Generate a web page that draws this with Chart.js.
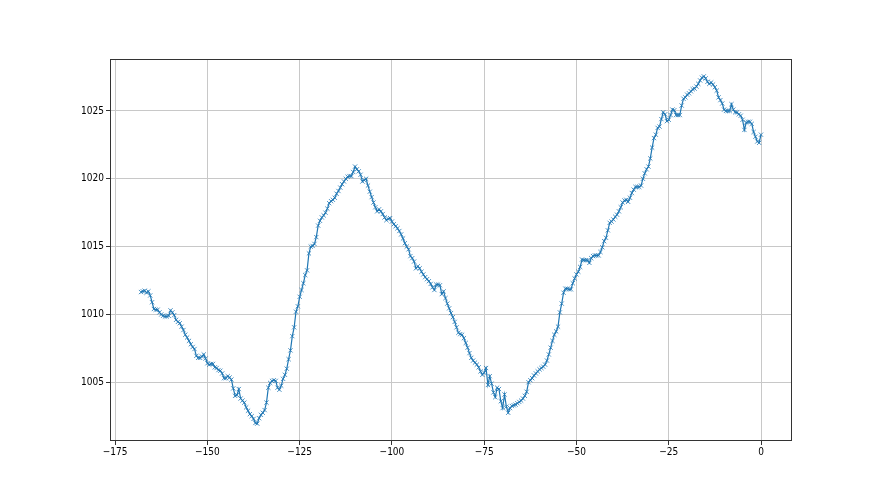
<!DOCTYPE html>
<html>
<head>
<meta charset="utf-8">
<script src="https://cdn.jsdelivr.net/npm/chart.js@4.4.1/dist/chart.umd.min.js"></script>
<style>
    body { margin: 0; background: #ffffff; }
    #wrap { width: 880px; height: 495px; }
</style>
</head>
<body>
<div id="wrap"><canvas id="pressure_chart" width="880" height="495"></canvas></div>
<script>
//Time axis: hours before now, one reading every half hour
const startHour = -168;
const stepHour = 0.5;
const pressure = [
    1011.65, 1011.7, 1011.75, 1011.6, 1011.7, 1011.4, 1010.9, 1010.4, 1010.35, 1010.35,
    1010.15, 1010.0, 1009.9, 1009.85, 1009.85, 1009.9, 1010.3, 1010.15, 1009.95, 1009.6,
    1009.45, 1009.35, 1009.1, 1008.85, 1008.5, 1008.3, 1008.05, 1007.8, 1007.6, 1007.45,
    1006.95, 1006.8, 1006.8, 1006.9, 1007.05, 1006.75, 1006.4, 1006.3, 1006.35, 1006.35,
    1006.1, 1006.05, 1005.9, 1005.85, 1005.65, 1005.3, 1005.3, 1005.45, 1005.35, 1005.2,
    1004.55, 1004.0, 1004.05, 1004.5, 1003.8, 1003.65, 1003.5, 1003.15, 1002.9, 1002.65,
    1002.5, 1002.3, 1002.0, 1001.95, 1002.35, 1002.6, 1002.75, 1002.95, 1003.5, 1004.6,
    1004.95, 1005.1, 1005.15, 1005.1, 1004.6, 1004.45, 1004.75, 1005.25, 1005.55, 1006.0,
    1006.7, 1007.35, 1008.4, 1009.05, 1010.2, 1010.6, 1011.3, 1011.8, 1012.3, 1012.9,
    1013.25, 1014.5, 1015.0, 1015.05, 1015.2, 1015.7, 1016.55, 1016.9, 1017.15, 1017.3,
    1017.5, 1017.8, 1018.2, 1018.35, 1018.45, 1018.6, 1018.9, 1019.1, 1019.35, 1019.6,
    1019.8, 1020.0, 1020.15, 1020.2, 1020.2, 1020.5, 1020.9, 1020.7, 1020.55, 1020.3,
    1019.8, 1019.9, 1020.0, 1019.5, 1019.05, 1018.65, 1018.25, 1017.9, 1017.6, 1017.75,
    1017.6, 1017.4, 1017.15, 1016.95, 1017.05, 1017.1, 1016.85, 1016.65, 1016.5, 1016.35,
    1016.15, 1015.9, 1015.6, 1015.25, 1015.0, 1014.8, 1014.3, 1014.15, 1013.9, 1013.4,
    1013.55, 1013.4, 1013.15, 1012.95, 1012.75, 1012.6, 1012.45, 1012.25, 1012.0, 1011.8,
    1012.2, 1012.2, 1012.15, 1011.5, 1011.7, 1011.2, 1010.8, 1010.45, 1010.1, 1009.8,
    1009.45, 1009.05, 1008.65, 1008.55, 1008.5, 1008.25, 1007.9, 1007.55, 1007.15, 1006.8,
    1006.6, 1006.45, 1006.3, 1006.1, 1005.8, 1005.55, 1005.7, 1006.05, 1004.8, 1005.45,
    1004.9, 1004.25, 1003.9, 1004.6, 1004.5, 1003.6, 1003.1, 1004.1, 1003.2, 1002.75,
    1003.1, 1003.25, 1003.3, 1003.35, 1003.45, 1003.55, 1003.65, 1003.8, 1004.0, 1004.3,
    1005.0, 1005.15, 1005.3, 1005.5, 1005.65, 1005.8, 1005.95, 1006.05, 1006.15, 1006.3,
    1006.6, 1007.05, 1007.55, 1008.05, 1008.5, 1008.75, 1009.1, 1010.15, 1010.8, 1011.6,
    1011.9, 1011.9, 1011.85, 1011.85, 1012.3, 1012.65, 1012.95, 1013.15, 1013.5, 1014.05,
    1014.0, 1014.0, 1014.0, 1013.8, 1014.15, 1014.3, 1014.35, 1014.35, 1014.35, 1014.6,
    1014.95, 1015.4, 1015.65, 1016.2, 1016.75, 1016.85, 1017.0, 1017.2, 1017.35, 1017.6,
    1017.9, 1018.25, 1018.4, 1018.45, 1018.3, 1018.6, 1018.95, 1019.2, 1019.4, 1019.4,
    1019.4, 1019.5, 1020.0, 1020.4, 1020.7, 1020.9, 1021.5, 1022.3, 1023.0, 1023.25,
    1023.75, 1023.85, 1024.4, 1024.9, 1024.75, 1024.25, 1024.35, 1024.7, 1025.1, 1025.05,
    1024.7, 1024.7, 1024.7, 1025.4, 1025.9, 1026.0, 1026.2, 1026.3, 1026.45, 1026.6,
    1026.65, 1026.8, 1027.0, 1027.25, 1027.45, 1027.55, 1027.4, 1027.15, 1027.0, 1027.1,
    1026.95, 1026.75, 1026.5, 1026.0, 1025.8, 1025.55, 1025.1, 1025.0, 1025.0, 1025.0,
    1025.5, 1025.1, 1024.9, 1024.9, 1024.75, 1024.65, 1024.35, 1023.6, 1024.15, 1024.2,
    1024.2, 1024.05, 1023.45, 1023.1, 1022.75, 1022.65, 1023.25
];
//Tick values shown on the axes
const xTicks = [-175, -150, -125, -100, -75, -50, -25, 0];
const yTicks = [1005, 1010, 1015, 1020, 1025];

//Pairs every reading with its hour
const points = pressure.map((p, i) => ({x: startHour + i * stepHour, y: p}));

//Axis limits with a 5% margin like matplotlib
const xMin = Math.min(...points.map(p => p.x));
const xMax = Math.max(...points.map(p => p.x));
const yMin = Math.min(...pressure);
const yMax = Math.max(...pressure);
const xPad = (xMax - xMin) * 0.05;
const yPad = (yMax - yMin) * 0.05;

const lineColor = '#1f77b4';
const markerColor = 'rgba(31,119,180,0.8)';
const gridColor = '#c8c8c8';
const spineColor = '#333333';
//The tick text in the picture is narrow, so a condensed face fits it best
const tickFont = {family: "'Liberation Sans Narrow', 'DejaVu Sans Condensed', 'DejaVu Sans', sans-serif", size: 10};

//Draws the full box round the plot area
const framePlugin = {
    id: 'frame',
    afterDraw: (chart) => {
        const a = chart.chartArea;
        const ctx = chart.ctx;
        ctx.save();
        ctx.strokeStyle = spineColor;
        ctx.lineWidth = 1;
        ctx.strokeRect(Math.round(a.left) + 0.5, Math.round(a.top) + 0.5,
            Math.round(a.right - a.left) - 1, Math.round(a.bottom - a.top) - 1);
        ctx.restore();
    }
};

new Chart("pressure_chart", {
    type: 'line',
    data: {
        datasets: [{
            data: points,
            borderColor: lineColor,
            borderWidth: 1.2,
            backgroundColor: 'rgba(0,0,0,0)',
            fill: false,
            tension: 0,
            pointStyle: 'crossRot',
            pointRadius: 3,
            pointBorderWidth: 1,
            pointBorderColor: markerColor
        }]
    },
    options: {
        responsive: false,
        animation: false,
        layout: {padding: {left: 0, right: 88, top: 59, bottom: 0}},
        plugins: {
            legend: {display: false},
            tooltip: {enabled: false}
        },
        scales: {
            x: {
                type: 'linear',
                min: xMin - xPad,
                max: xMax + xPad,
                afterFit: (scale) => { scale.height = 54; },
                afterBuildTicks: (scale) => { scale.ticks = xTicks.map(v => ({value: v})); },
                grid: {color: gridColor, lineWidth: 1, tickLength: 4, tickColor: spineColor},
                border: {display: false},
                ticks: {
                    color: '#000000',
                    font: tickFont,
                    padding: 1,
                    maxRotation: 0,
                    callback: (v) => String(v).replace('-', '\u2212')
                }
            },
            y: {
                type: 'linear',
                min: yMin - yPad,
                max: yMax + yPad,
                afterFit: (scale) => { scale.width = 110; },
                afterBuildTicks: (scale) => { scale.ticks = yTicks.map(v => ({value: v})); },
                grid: {color: gridColor, lineWidth: 1, tickLength: 4, tickColor: spineColor},
                border: {display: false},
                ticks: {
                    color: '#000000',
                    font: tickFont,
                    padding: 2,
                    callback: (v) => String(v)
                }
            }
        }
    },
    plugins: [framePlugin]
});
</script>
</body>
</html>
